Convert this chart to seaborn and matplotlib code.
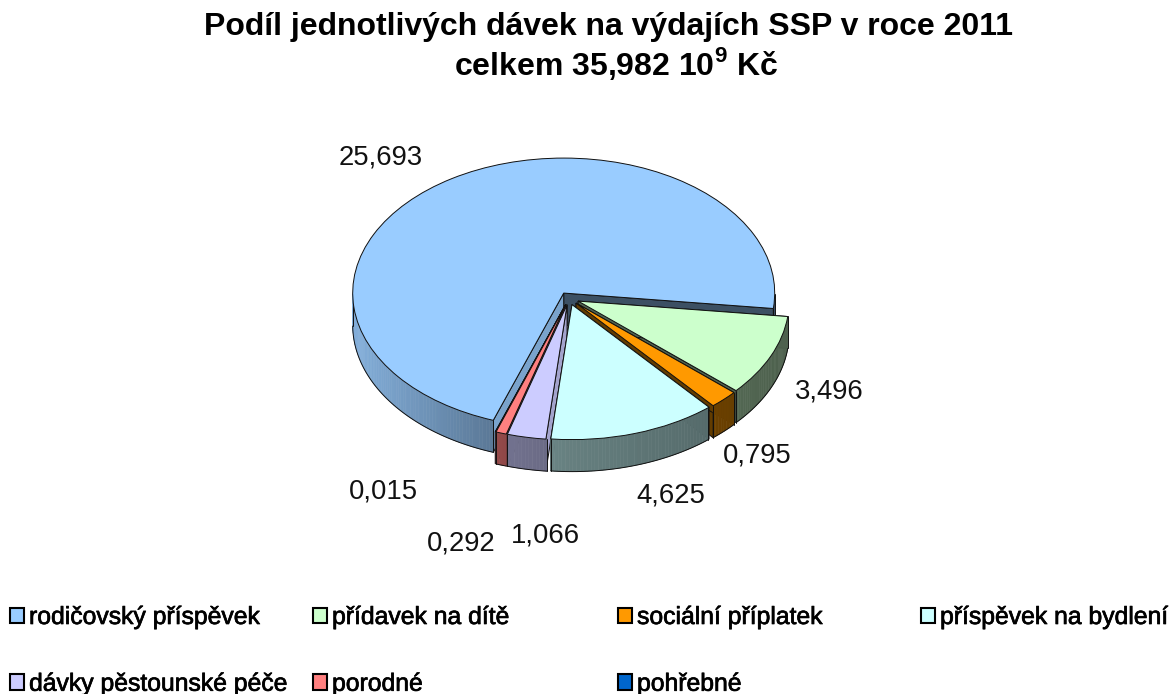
import numpy as np
import matplotlib
matplotlib.use('Agg')
import matplotlib.pyplot as plt
import matplotlib.patheffects as pe
import seaborn as sns

categories = ['rodičovský příspěvek', 'přídavek na dítě', 'sociální příplatek', 'příspěvek na bydlení',
              'dávky pěstounské péče', 'porodné', 'pohřebné']
values = [25.693, 3.496, 0.795, 4.625, 1.066, 0.292, 0.015]
colors = ['#99CCFF', '#CCFFCC', '#FF9900', '#CCFFFF', '#CCCCFF', '#FF8080', '#0066CC']
title_lines = ['Podíl jednotlivých dávek na výdajích SSP v roce 2011',
               r'celkem 35,982 10$^{\mathbf{9}}$ Kč']

# pixel layout of the reference
W, H = 1169, 694
cx, cy = 569, 298.5
rx, ry = 211, 135
depth = 32 / ry
label_pos = [(381, 158), (829, 392), (757, 456), (671, 495), (545, 535), (461, 543), (383, 492)]
legend_cols = [(10, [0, 4]), (313, [1, 5]), (618, [2, 6]), (921, [3])]
draw_order = [0, 1, 2, 6, 5, 4, 3]

sns.set_theme(style='white')
plt.rcParams['font.family'] = ['Liberation Sans', 'DejaVu Sans']
plt.rcParams['mathtext.fontset'] = 'custom'
plt.rcParams['mathtext.bf'] = 'Liberation Sans:bold'
plt.rcParams['mathtext.rm'] = 'Liberation Sans'

fig = plt.figure(figsize=(W / 100, H / 100), dpi=100)
ax = fig.add_axes([0, 0, 1, 1])
palette = sns.color_palette(colors)

wedges, _ = ax.pie(values, colors=palette, explode=[10 / rx] * len(values), startangle=250.5,
                   counterclock=False, radius=1,
                   wedgeprops=dict(edgecolor='#101010', linewidth=0.7))


def shade(col, f):
    return tuple(c * f for c in col)


def wall_factor(x):
    return np.interp(x, [-1, -0.3, 0, 1], [0.85, 0.56, 0.5, 0.38])


def draw_wall(th, x0, y0, col, z):
    xs, ys = x0 + np.cos(th), y0 + np.sin(th)
    for j in range(len(th) - 1):
        ax.fill([xs[j], xs[j + 1], xs[j + 1], xs[j]],
                [ys[j], ys[j + 1], ys[j + 1] - depth, ys[j] - depth],
                color=shade(col, wall_factor(xs[j])), lw=0.4, zorder=z)
    ax.plot(xs, ys - depth, color='#101010', lw=0.7, zorder=z)
    for k in (0, -1):
        ax.plot([xs[k], xs[k]], [ys[k], ys[k] - depth], color='#101010', lw=0.7, zorder=z)


for order, i in enumerate(draw_order):
    w = wedges[i]
    col = palette[i]
    z = 2 + order * 2
    w.set_zorder(z + 1)
    x0, y0 = w.center

    # cut faces of the slice
    for th in (w.theta1, w.theta2):
        a = np.radians(th)
        f = 0.8 if np.cos(a) < 0.02 else 0.39
        xr, yr = x0 + np.cos(a), y0 + np.sin(a)
        ax.fill([x0, xr, xr, x0], [y0, yr, yr - depth, y0 - depth], color=shade(col, f),
                ec='#101010', lw=0.7, zorder=z)

    # outer wall, front part of the rim only (the big slice has two separate parts)
    deg = np.arange(w.theta1, w.theta2 + 0.5, 1.0)
    deg = deg[np.sin(np.radians(deg)) <= 0]
    if len(deg) > 1:
        for part in np.split(deg, np.where(np.diff(deg) > 1.5)[0] + 1):
            if len(part) > 1:
                draw_wall(np.radians(part), x0, y0, col, z)

ax.set_aspect('auto')
ax.set_xlim(-cx / rx, (W - cx) / rx)
ax.set_ylim(-(H - cy) / ry, cy / ry)
ax.axis('off')

for v, (px, py) in zip(values, label_pos):
    fig.text(px / W, 1 - py / H, f'{v:.3f}'.replace('.', ','), fontsize=19.8, color='#111111',
             ha='center', va='center')

fig.text(609 / W, 1 - 27 / H, title_lines[0], fontsize=23, fontweight='bold', color='black',
         ha='center', va='center')
fig.text(616 / W, 1 - 63 / H, title_lines[1], fontsize=23, fontweight='bold', color='black',
         ha='center', va='center')

for px, idx in legend_cols:
    leg = fig.legend([wedges[i] for i in idx], [categories[i] for i in idx], loc='upper left',
                     bbox_to_anchor=(px / W, 1 - 605 / H),
                     frameon=False, fontsize=17.8, labelspacing=1.73, handlelength=0.57, handleheight=0.57,
                     handletextpad=0.2, borderpad=0, borderaxespad=0)
    for t in leg.get_texts():
        t.set_color('black')
        t.set_path_effects([pe.withStroke(linewidth=0.5, foreground='black')])
    for h in leg.legend_handles:
        h.set_edgecolor('black')
        h.set_linewidth(1.5)

fig.savefig('out.png', dpi=100, facecolor='white')
